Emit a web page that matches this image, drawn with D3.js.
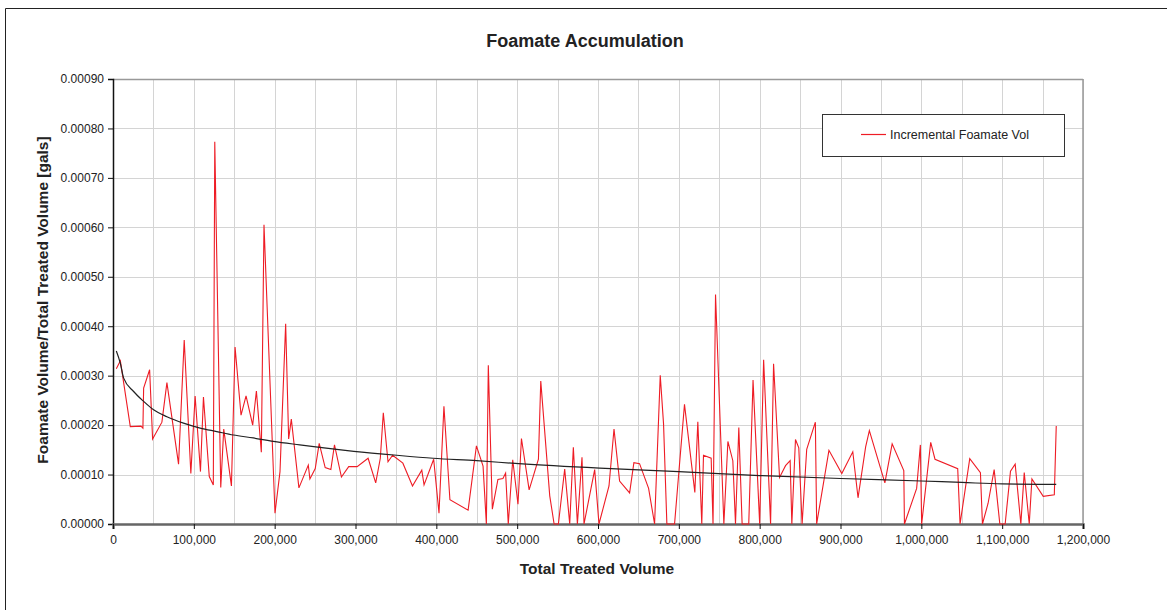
<!DOCTYPE html>
<html>
<head>
<meta charset="utf-8">
<script src="https://cdn.jsdelivr.net/npm/d3@7"></script>
<style>
  html, body { margin: 0; padding: 0; background: #fff; }
  svg text { font-family: "Liberation Sans", Arial, sans-serif; fill: #222; }
</style>
</head>
<body>
<div id="chart"></div>
<script>
// Total treated volume (gals) for each incremental reading
const volume = [
  4100, 9100, 21400, 34600, 37000, 37900, 45300, 49000, 60500, 66700,
  81100, 88100, 96300, 101600, 108200, 111900, 119100, 124100, 125900, 133300,
  137000, 146500, 151000, 158400, 164600, 172800, 177400, 183500, 186800, 200400,
  206600, 213600, 217300, 220600, 230000, 241600, 243600, 250200, 255100, 262500,
  269500, 274000, 282600, 291600, 302000, 315600, 325000, 330700, 334400, 340200,
  345900, 358600, 370500, 382000, 384800, 396700, 403300, 409400, 416800, 439300,
  449600, 457800, 461900, 464300, 469300, 476200, 482400, 485700, 489000, 494500,
  501000, 505300, 514800, 526300, 529200, 540300, 545700, 551000, 558800, 565000,
  569500, 574500, 580200, 582700, 595900, 601200, 613600, 619800, 626700, 639100,
  644400, 651400, 662600, 670000, 677000, 681100, 685200, 694700, 707000, 719800,
  723500, 728400, 730500, 740000, 742300, 745400, 755700, 760700, 766800, 770100,
  774200, 778300, 786500, 791800, 800000, 804900, 813500, 817200, 824600, 832000,
  837700, 839800, 844300, 848400, 852500, 858200, 868900, 870500, 885700, 901600,
  915200, 921700, 931100, 935700, 954900, 963900, 978300, 979100, 994200, 998800,
  1000400, 1011600, 1016900, 1045000, 1047900, 1059900, 1073100, 1075600, 1082600, 1090100,
  1097100, 1103700, 1110300, 1116100, 1123100, 1127300, 1133500, 1136800, 1150800, 1164500,
  1166900
];

// Incremental foamate vol / treated volume
const incremental = [
  0.000314, 0.000330, 0.000197, 0.000198, 0.000194, 0.000275, 0.000312, 0.000172, 0.000206, 0.000286,
  0.000121, 0.000372, 0.000102, 0.000259, 0.000106, 0.000257, 0.000096, 0.000079, 0.000773, 0.000074,
  0.000192, 0.000077, 0.000358, 0.000220, 0.000259, 0.000200, 0.000269, 0.000145, 0.000605, 0.000022,
  0.000106, 0.000405, 0.000172, 0.000212, 0.000073, 0.000119, 0.000091, 0.000112, 0.000163, 0.000114,
  0.000110, 0.000160, 0.000095, 0.000116, 0.000116, 0.000133, 0.000083, 0.000133, 0.000225, 0.000126,
  0.000139, 0.000123, 0.000077, 0.000109, 0.000079, 0.000131, 0.000022, 0.000238, 0.000049, 0.000028,
  0.000158, 0.000117, 0.000000, 0.000321, 0.000030, 0.000090, 0.000092, 0.000103, 0.000000, 0.000130,
  0.000040, 0.000173, 0.000069, 0.000131, 0.000289, 0.000057, 0.000000, 0.000000, 0.000111, 0.000000,
  0.000155, 0.000000, 0.000135, 0.000000, 0.000110, 0.000000, 0.000077, 0.000192, 0.000087, 0.000063,
  0.000124, 0.000122, 0.000072, 0.000000, 0.000301, 0.000202, 0.000000, 0.000000, 0.000242, 0.000064,
  0.000207, 0.000000, 0.000139, 0.000133, 0.000000, 0.000464, 0.000000, 0.000167, 0.000128, 0.000000,
  0.000195, 0.000000, 0.000000, 0.000291, 0.000000, 0.000332, 0.000000, 0.000324, 0.000094, 0.000118,
  0.000128, 0.000000, 0.000171, 0.000154, 0.000000, 0.000151, 0.000206, 0.000000, 0.000149, 0.000102,
  0.000146, 0.000053, 0.000156, 0.000189, 0.000083, 0.000162, 0.000108, 0.000000, 0.000072, 0.000160,
  0.000000, 0.000165, 0.000131, 0.000112, 0.000000, 0.000132, 0.000104, 0.000000, 0.000042, 0.000110,
  0.000000, 0.000000, 0.000107, 0.000121, 0.000000, 0.000104, 0.000000, 0.000091, 0.000056, 0.000059,
  0.000198
];

// Cumulative foamate / total treated volume (black curve)
const trendVolume = [
  4100, 9100, 13200, 25500, 37900, 50200, 66700, 87200, 107800, 128400,
  149000, 173700, 198400, 231000, 298000, 351000, 396000, 450000, 502000, 602000,
  700000, 800000, 900000, 1000000, 1050000, 1100000, 1166900
];
const trendRatio = [
  0.000350, 0.000325, 0.000295, 0.000268, 0.000248, 0.000231, 0.000217, 0.000204, 0.000194, 0.000187,
  0.000180, 0.000174, 0.000167, 0.000160, 0.000147, 0.000139, 0.000133, 0.000128, 0.000122, 0.000113,
  0.000106, 0.000098, 0.000092, 0.000087, 0.000084, 0.000081, 0.000080
];

const xTicks = d3.range(0, 1200001, 100000);
const yTicks = d3.range(0, 0.00091, 0.0001);
const xGrid = d3.range(50000, 1200001, 50000);

const width = 1167, height = 610;
const margin = { top: 79, right: 84, bottom: 86, left: 113 };
const innerWidth = width - margin.left - margin.right;
const innerHeight = height - margin.top - margin.bottom;

const svg = d3.select('#chart').append('svg')
  .attr('width', width)
  .attr('height', height);

// outer chart frame: only left and top edges are inside the picture
svg.append('path')
  .attr('d', `M5.5,${height} V8.5 H${width}`)
  .attr('fill', 'none').attr('stroke', '#222').attr('stroke-width', 1);

svg.append('text')
  .attr('x', 585).attr('y', 47)
  .attr('text-anchor', 'middle')
  .style('font-size', '18px').style('font-weight', 'bold')
  .text('Foamate Accumulation');

const chart = svg.append('g')
  .attr('transform', `translate(${margin.left}, ${margin.top})`);

const xScale = d3.scaleLinear().domain([0, 1200000]).range([0, innerWidth]);
const yScale = d3.scaleLinear().domain([0, 0.0009]).range([innerHeight, 0]);

// grid
chart.append('g').selectAll('line')
  .data(xGrid)
  .enter().append('line')
  .attr('x1', d => Math.round(xScale(d)) + 0.5).attr('x2', d => Math.round(xScale(d)) + 0.5)
  .attr('y1', 0).attr('y2', innerHeight)
  .attr('stroke', '#d4d4d4').attr('stroke-width', 1);

chart.append('g').selectAll('line')
  .data(yTicks.slice(1))
  .enter().append('line')
  .attr('x1', 0).attr('x2', innerWidth)
  .attr('y1', d => Math.round(yScale(d)) + 0.5).attr('y2', d => Math.round(yScale(d)) + 0.5)
  .attr('stroke', '#d4d4d4').attr('stroke-width', 1);

// top and right plot borders
chart.append('line')
  .attr('x1', 0).attr('x2', innerWidth).attr('y1', 0.5).attr('y2', 0.5)
  .attr('stroke', '#999').attr('stroke-width', 1.5);
chart.append('line')
  .attr('x1', innerWidth).attr('x2', innerWidth).attr('y1', 0).attr('y2', innerHeight)
  .attr('stroke', '#999').attr('stroke-width', 1.5);

// axes
const yAxis = d3.axisLeft(yScale)
  .tickValues(yTicks)
  .tickFormat(d3.format('.5f'))
  .tickSize(5).tickPadding(4);

const yG = chart.append('g').call(yAxis);
yG.select('.domain').attr('stroke', '#111').attr('stroke-width', 1.5);
yG.selectAll('.tick line').attr('stroke', '#111');
yG.selectAll('text').style('font-size', '12px').attr('fill', '#222');

const xAxis = d3.axisBottom(xScale)
  .tickValues(xTicks)
  .tickFormat(d3.format(','))
  .tickSize(5).tickPadding(6);

const xG = chart.append('g')
  .attr('transform', `translate(0, ${innerHeight})`)
  .call(xAxis);
xG.select('.domain').attr('stroke', '#666').attr('stroke-width', 2.5);
xG.selectAll('.tick line').attr('stroke', '#111');
xG.selectAll('text').style('font-size', '12px').attr('fill', '#222');

// axis titles
svg.append('text')
  .attr('x', 597).attr('y', 574)
  .attr('text-anchor', 'middle')
  .style('font-size', '15.5px').style('font-weight', 'bold')
  .text('Total Treated Volume');

svg.append('text')
  .attr('transform', 'translate(48, 300) rotate(-90)')
  .attr('text-anchor', 'middle')
  .style('font-size', '15.5px').style('font-weight', 'bold')
  .text('Foamate Volume/Total Treated Volume [gals]');

// lines
const line = d3.line()
  .x(d => xScale(d[0]))
  .y(d => yScale(d[1]));

chart.append('path')
  .datum(d3.zip(volume, incremental))
  .attr('d', line)
  .attr('fill', 'none')
  .attr('stroke', '#ee1c25')
  .attr('stroke-width', 1.1);

chart.append('path')
  .datum(d3.zip(trendVolume, trendRatio))
  .attr('d', line.curve(d3.curveMonotoneX))
  .attr('fill', 'none')
  .attr('stroke', '#222')
  .attr('stroke-width', 1.2);

// legend
const legend = svg.append('g');
legend.append('rect')
  .attr('x', 822.5).attr('y', 114.5)
  .attr('width', 242).attr('height', 42)
  .attr('fill', '#fff').attr('stroke', '#333').attr('stroke-width', 1);
legend.append('line')
  .attr('x1', 861).attr('x2', 886).attr('y1', 134.5).attr('y2', 134.5)
  .attr('stroke', '#ee1c25').attr('stroke-width', 1.2);
legend.append('text')
  .attr('x', 890).attr('y', 139)
  .style('font-size', '12.5px')
  .text('Incremental Foamate Vol');
</script>
</body>
</html>
